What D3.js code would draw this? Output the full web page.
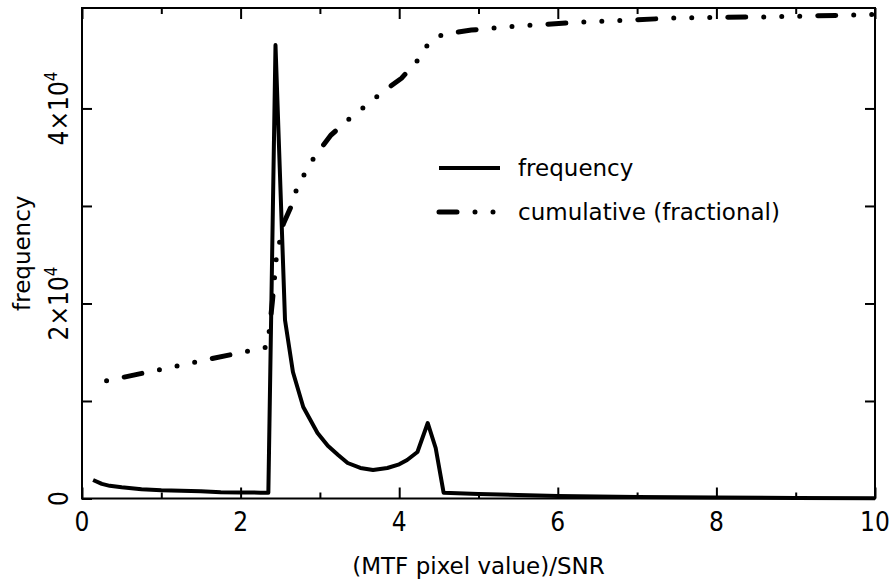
<!DOCTYPE html>
<html>
<head>
<meta charset="utf-8">
<script src="https://cdn.jsdelivr.net/npm/d3@7"></script>
<style>
  body { margin: 0; background: #fff; }
  text { fill: #000; }
  .tick-label { font-family: "Liberation Sans Narrow", "DejaVu Sans Condensed", "DejaVu Sans", sans-serif; font-size: 26px; }
  .title, .legend { font-family: "DejaVu Sans", sans-serif; font-size: 23px; }
</style>
</head>
<body>
<div id="chart"></div>
<script>
// histogram of (MTF pixel value)/SNR
const freqX = [0.14, 0.25, 0.35, 0.5, 0.75, 1.0, 1.25, 1.5, 1.75, 2.0, 2.25, 2.35,
  2.44, 2.56, 2.66, 2.79, 2.97, 3.1, 3.23, 3.35, 3.51, 3.67, 3.85, 4.0, 4.1, 4.23,
  4.36, 4.46, 4.56, 5.0, 6.0, 7.0, 8.0, 9.0, 10.0];
const freqY = [1900, 1500, 1300, 1150, 950, 850, 800, 750, 650, 620, 600, 600,
  46500, 18300, 12970, 9380, 6720, 5400, 4460, 3640, 3130, 2920, 3130, 3500, 3950, 4770,
  7740, 5180, 600, 460, 260, 150, 100, 50, 30];

// cumulative (fractional), 1 = top of frame
const cumX = [0.31, 2.34, 2.40, 2.45, 2.54, 2.65, 2.71, 2.82, 2.93, 3.14, 3.40, 3.59,
  3.76, 4.03, 4.26, 4.38, 4.56, 4.91, 5.47, 6.39, 7.55, 8.69, 9.82, 10.0];
const cumF = [0.24, 0.309, 0.40, 0.49, 0.56, 0.60, 0.633, 0.666, 0.696, 0.741, 0.778, 0.802,
  0.825, 0.857, 0.898, 0.931, 0.947, 0.955, 0.963, 0.972, 0.980, 0.982, 0.986, 0.987];

const xTicks = [0, 2, 4, 6, 8, 10];
const xMinor = [1, 3, 5, 7, 9];
const yTicks = [0, 10000, 20000, 30000, 40000];
const yLabels = [[0, "0", null], [20000, "2×10", "4"], [40000, "4×10", "4"]];
const legendItems = ["frequency", "cumulative (fractional)"];

const W = 890, H = 586;
const margin = { top: 8, right: 15, bottom: 87.5, left: 82 };
const width = W - margin.left - margin.right;
const height = H - margin.top - margin.bottom;
const dashPattern = "18 18 0 18 0 18 0 18";

const svg = d3.select("#chart").append("svg")
    .attr("width", W)
    .attr("height", H)
    .style("background", "#fff");

const g = svg.append("g")
    .attr("transform", `translate(${margin.left},${margin.top})`);

const x = d3.scaleLinear().domain([0, 10]).range([0, width]);
const y = d3.scaleLinear().domain([0, 50300]).range([height, 0]);
const yc = d3.scaleLinear().domain([0, 1]).range([height, 0]);

// inward ticks on all four sides
function tickAxis(axis, ticks, len) {
    return axis.tickValues(ticks).tickSize(-len).tickFormat("");
}
const axes = [
    [d3.axisBottom(x), xTicks, 11, `translate(0,${height})`],
    [d3.axisBottom(x), xMinor, 6, `translate(0,${height})`],
    [d3.axisTop(x), xTicks, 11, null],
    [d3.axisTop(x), xMinor, 6, null],
    [d3.axisLeft(y), yTicks, 10, null],
    [d3.axisRight(y), yTicks, 10, `translate(${width},0)`]
];
axes.forEach(([axis, ticks, len, tr]) => {
    const a = g.append("g").call(tickAxis(axis, ticks, len));
    if (tr) a.attr("transform", tr);
    a.select(".domain").remove();
    a.selectAll("line").attr("stroke", "#000").attr("stroke-width", 2);
});

g.append("rect")
    .attr("width", width)
    .attr("height", height)
    .attr("fill", "none")
    .attr("stroke", "#000")
    .attr("stroke-width", 2);

// tick labels
g.selectAll(".xlab")
    .data(xTicks)
    .enter().append("text")
    .attr("class", "tick-label")
    .attr("x", d => x(d))
    .attr("y", height + 32)
    .attr("text-anchor", "middle")
    .text(d => d);

yLabels.forEach(([v, main, sup]) => {
    const t = g.append("text")
        .attr("class", "tick-label")
        .attr("transform", `translate(-14,${y(v)}) rotate(-90)`)
        .attr("text-anchor", "middle");
    t.append("tspan").text(main);
    if (sup) t.append("tspan").attr("dy", -11).style("font-size", "17px").text(sup);
});

// axis titles
svg.append("text")
    .attr("class", "title")
    .attr("x", margin.left + width / 2)
    .attr("y", 574)
    .attr("text-anchor", "middle")
    .text("(MTF pixel value)/SNR");

svg.append("text")
    .attr("class", "title")
    .attr("transform", `translate(30,${margin.top + height / 2}) rotate(-90)`)
    .attr("text-anchor", "middle")
    .text("frequency");

// lines
const freqLine = d3.line().x(d => x(d[0])).y(d => y(d[1]));
const cumLine = d3.line().x(d => x(d[0])).y(d => yc(d[1]));

g.append("path")
    .datum(d3.zip(freqX, freqY))
    .attr("d", freqLine)
    .attr("fill", "none")
    .attr("stroke", "#000")
    .attr("stroke-width", 4)
    .attr("stroke-linejoin", "round");

g.append("path")
    .datum(d3.zip(cumX, cumF))
    .attr("d", cumLine)
    .attr("fill", "none")
    .attr("stroke", "#000")
    .attr("stroke-width", 5)
    .attr("stroke-linecap", "round")
    .attr("stroke-dasharray", dashPattern)
    .attr("stroke-dashoffset", 72);

// legend
const legend = svg.append("g").attr("transform", "translate(439,168)");
legendItems.forEach((name, i) => {
    const row = legend.append("g").attr("transform", `translate(0,${i * 44})`);
    const ln = row.append("line")
        .attr("x1", 0).attr("x2", 61)
        .attr("stroke", "#000")
        .attr("stroke-width", i ? 5 : 4);
    if (i) ln.attr("stroke-linecap", "round").attr("stroke-dasharray", dashPattern);
    row.append("text")
        .attr("class", "legend")
        .attr("x", 79)
        .attr("y", 8)
        .text(name);
});
</script>
</body>
</html>
